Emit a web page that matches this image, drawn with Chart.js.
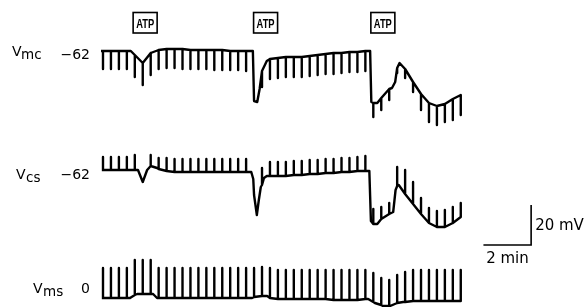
<!DOCTYPE html>
<html>
<head>
<meta charset="utf-8">
<script src="https://cdn.jsdelivr.net/npm/chart.js@4"></script>
<style>
body { margin: 0; background: #fff; }
#wrap { width: 584px; height: 307px; position: relative; }
</style>
</head>
<body>
<div id="wrap"><canvas id="trace"></canvas></div>
<script>
// stimulus pulses every 20 s (time in s)
const pulseTimes = [0,20,40,60,80,100,120,140,160,180,200,220,240,260,280,300,320,340,360,380,400,420,440,460,480,500,520,540,560,580,600,620,640,660,680,700,720,740,760,780,800,820,840,860,880,900];
const atpTimes = [106, 409, 704];

// Vmc (mV): baseline at each pulse, pulse tip, extra points between pulses
const mcBase = [-62,-62,-62,-62,-64,-68,-63,-61.5,-61,-61,-61,-61.5,-61.5,-61.5,-61.5,-61.5,-62,-62,-62,-87,-72,-66,-65.5,-65,-65,-65,-64.5,-64,-63.5,-63,-63,-62.5,-62.5,-62,-88,-85.5,-81,-70.5,-71,-77.5,-83.5,-88,-89.5,-88.5,-86,-84];
const mcTip = [-71,-71,-71,-71,-75,-79,-74,-71,-70.5,-70.5,-71,-71,-71,-71,-71.5,-71.5,-71.5,-71.5,-72,-87,-80,-76,-75.5,-75,-75,-75,-74.5,-74,-73.5,-73.5,-73,-72.5,-72.5,-72,-95,-91.5,-86.5,-73,-75.5,-82.5,-91.5,-97.5,-99,-97.5,-96.5,-94];
const mcKnotT = [-5, 70, 377, 388, 394, 412, 672, 675, 690, 727, 735, 746];
const mcKnotV = [-62, -62, -62, -87.5, -81, -67, -62, -87.5, -88, -80.5, -77.5, -68];

// Vcs (mV)
const csBase = [-61.5,-61.5,-61.5,-61.5,-61.5,-67.5,-59.5,-61,-62,-62.5,-62.5,-62.5,-62.5,-62.5,-62.5,-62.5,-62.5,-62.5,-62.5,-74,-69,-64.5,-64.5,-64.5,-64,-64,-63.5,-63.5,-63,-63,-62.5,-62.5,-62,-62,-88.5,-86,-83.5,-69.5,-73.5,-78.5,-83.5,-88,-90,-90,-88,-85];
const csTip = [-55,-55,-55,-55,-54,-67.5,-54,-55.5,-55.5,-56,-56,-56,-56,-56,-56,-56,-56,-56,-56,-74,-60.5,-57.5,-57.5,-57.5,-57,-57,-56.5,-56.5,-56,-56,-55.5,-55.5,-55,-54.5,-81,-80,-78,-60,-61.5,-67.5,-75.5,-80.5,-82,-81.5,-80,-78];
const csKnotT = [-3, 88, 111, 136, 373, 378, 387, 392, 397, 405, 412, 670, 674, 690, 730, 736, 744];
const csKnotV = [-61.5, -61.5, -61.5, -60.5, -62.5, -66, -84, -76.5, -70, -65.5, -64.5, -62, -87, -88.5, -82.5, -71.5, -69];

// Vms (mV)
const msBase = [0,0,0,0,1.5,2,2,0,0,0,0,0,0,0,0,0,0,0,0,0.5,1,0,-0.5,-0.5,-0.5,-0.5,-0.5,-0.5,-0.5,-1,-1,-1,-1,-0.5,-2,-3.5,-4,-2.5,-2,-1.5,-1.5,-1.5,-1.5,-1.5,-1.5,-1.5];
const msTip = [15,15,15,15,19,19,19,15,15,15,15,15,15,15,15,15,15,15,15,15,15.5,15,14,14,14,14,14,14,14,14,14,14,14,14,12.5,10,9,11.5,13,14,14,14,14,14,14,14];
const msKnotT = [-3, 68, 86, 126, 136, 375, 413, 667, 684, 704, 722, 755, 798];
const msKnotV = [0, 0, 2, 2, 0, 0, 1, -0.5, -2.5, -4, -4, -2, -1.5];

// calibration
const barMv = 20;
const barSec = 120;

// vertical placement of each record on the sheet
const offMc = 190, offCs = 130, offMs = 4.5;
const barCornerT = 1077, barCornerY = 31;

function buildTrace(base, tip, knotT, knotV, off) {
    const pts = [];
    pulseTimes.forEach((t, i) => {
        pts.push({x: t, y: base[i] + off});
        if (tip[i] !== base[i]) {
            pts.push({x: t, y: tip[i] + off});
            pts.push({x: t, y: base[i] + off});
        }
    });
    knotT.forEach((t, i) => pts.push({x: t, y: knotV[i] + off}));
    pts.sort((a, b) => a.x - b.x);
    return pts;
}

const lineStyle = {
    borderColor: '#000',
    borderWidth: 2.4,
    pointRadius: 0,
    tension: 0,
    fill: false,
    borderJoinStyle: 'round',
    borderCapStyle: 'butt'
};

const traceLabels = [
    {v: 'V', sub: 'mc', val: '\u221262', ref: -62 + offMc, xV: 12, xSub: 21, dyV: 5, dySub: 8, dyVal: 8},
    {v: 'V', sub: 'cs', val: '\u221262', ref: -62 + offCs, xV: 16, xSub: 26, dyV: 8, dySub: 11, dyVal: 8},
    {v: 'V', sub: 'ms', val: '0', ref: 0 + offMs, xV: 33, xSub: 43, dyV: -5, dySub: -2, dyVal: -5}
];

const textPlugin = {
    id: 'sheetText',
    afterDraw(chart) {
        const ctx = chart.ctx;
        const xs = chart.scales.x, ys = chart.scales.y;
        ctx.save();
        ctx.fillStyle = '#000';
        ctx.textBaseline = 'alphabetic';
        traceLabels.forEach(l => {
            const y0 = ys.getPixelForValue(l.ref);
            ctx.font = '14px "DejaVu Sans"';
            ctx.textAlign = 'left';
            ctx.fillText(l.v, l.xV, y0 + l.dyV);
            ctx.font = '13.5px "DejaVu Sans"';
            ctx.fillText(l.sub, l.xSub, y0 + l.dySub);
            ctx.font = '14px "DejaVu Sans"';
            ctx.textAlign = 'right';
            ctx.fillText(l.val, 90, y0 + l.dyVal);
        });

        // ATP application markers
        atpTimes.forEach(t => {
            const cx = xs.getPixelForValue(t);
            ctx.lineWidth = 1.6;
            ctx.strokeStyle = '#000';
            ctx.strokeRect(cx - 12, 12.5, 24, 20.5);
            ctx.font = 'bold 12px "Liberation Sans"';
            const w = ctx.measureText('ATP').width;
            ctx.save();
            ctx.translate(cx, 28);
            ctx.scale(18 / w, 1);
            ctx.textAlign = 'center';
            ctx.fillText('ATP', 0, 0);
            ctx.restore();
        });

        // calibration labels
        const bx = xs.getPixelForValue(barCornerT);
        const by = ys.getPixelForValue(barCornerY);
        ctx.font = '15px "DejaVu Sans"';
        ctx.textAlign = 'left';
        ctx.fillText('20 mV', bx + 4, by - 15);
        ctx.fillText('2 min', bx - 45, by + 18);
        ctx.restore();
    }
};

new Chart(document.getElementById('trace'), {
    type: 'line',
    data: {
        datasets: [
            Object.assign({data: buildTrace(mcBase, mcTip, mcKnotT, mcKnotV, offMc)}, lineStyle),
            Object.assign({data: buildTrace(csBase, csTip, csKnotT, csKnotV, offCs)}, lineStyle),
            Object.assign({data: buildTrace(msBase, msTip, msKnotT, msKnotV, offMs)}, lineStyle),
            Object.assign({data: [
                {x: barCornerT - barSec, y: barCornerY},
                {x: barCornerT, y: barCornerY},
                {x: barCornerT, y: barCornerY + barMv}
            ]}, lineStyle, {borderWidth: 1.6, borderJoinStyle: 'miter'})
        ]
    },
    options: {
        responsive: true,
        maintainAspectRatio: false,
        animation: false,
        layout: { padding: 0 },
        plugins: { legend: { display: false }, tooltip: { enabled: false } },
        scales: {
            x: { type: 'linear', min: -259.1, max: 1210, display: false },
            y: { type: 'linear', min: 0, max: 153.5, display: false }
        }
    },
    plugins: [textPlugin]
});
</script>
</body>
</html>
